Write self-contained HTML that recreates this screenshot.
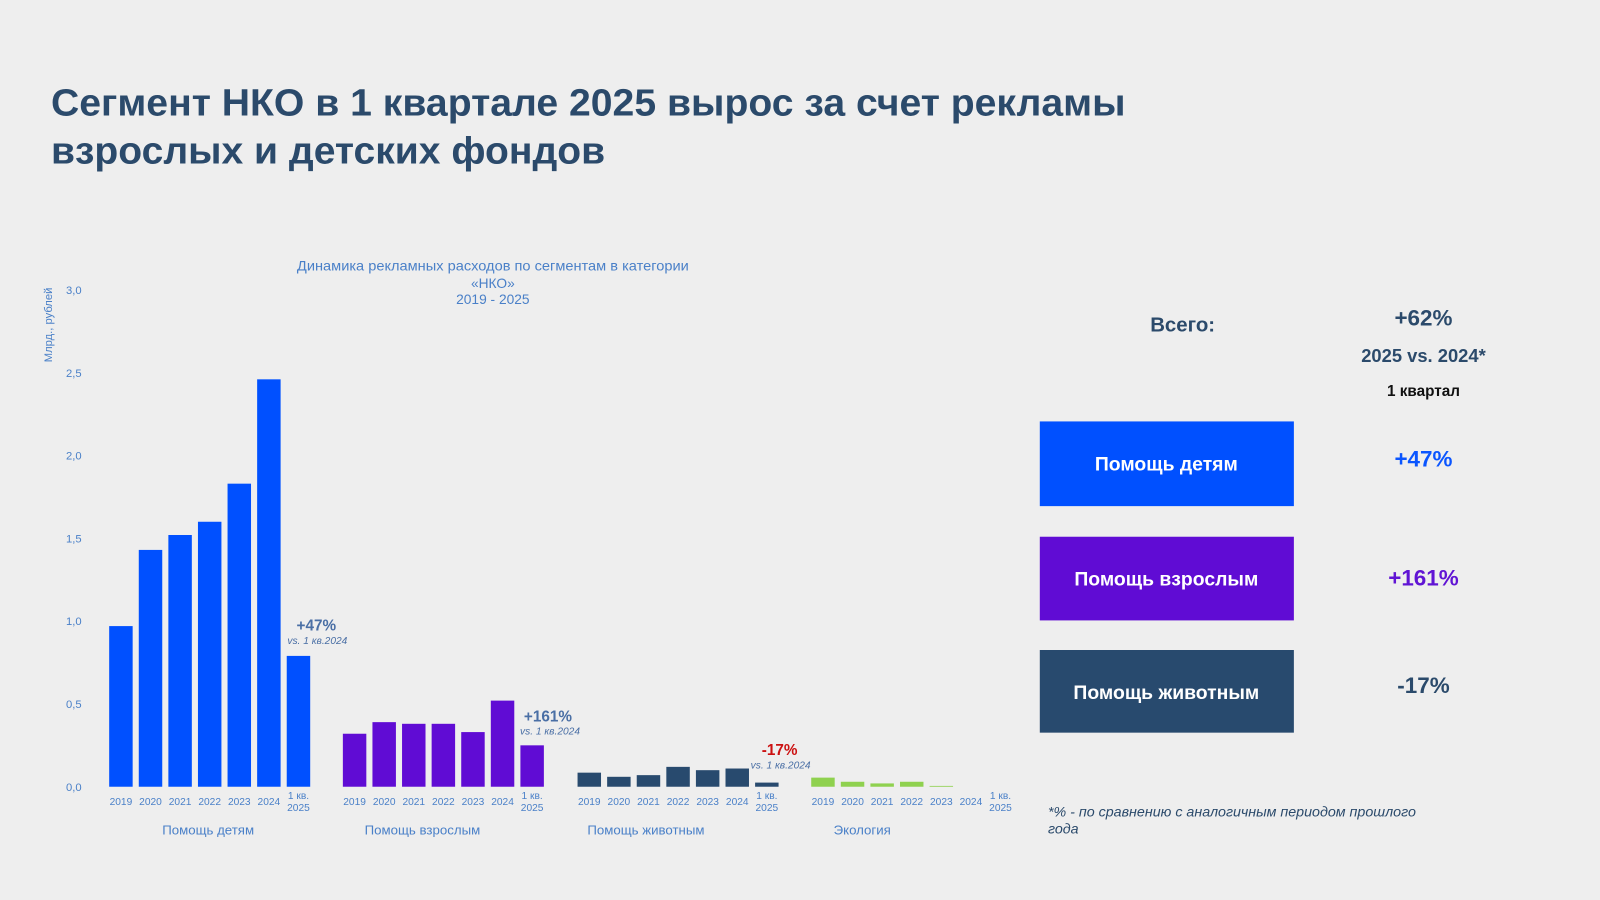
<!DOCTYPE html>
<html><head><meta charset="utf-8"><style>
html,body{margin:0;padding:0;background:#eeeeee;}
svg{display:block;font-family:"Liberation Sans","Noto Sans CJK SC",sans-serif;}
</style></head><body>
<svg id="chart" width="1600" height="900" viewBox="0 0 1568 882" xmlns="http://www.w3.org/2000/svg">
<rect width="1568" height="882" fill="#eeeeee"/>
<g fill="#2b4a6b" font-weight="bold" font-size="37">
<text x="50" y="113" textLength="1053" lengthAdjust="spacingAndGlyphs">Сегмент НКО в 1 квартале 2025 вырос за счет рекламы</text>
<text x="50" y="160" textLength="543" lengthAdjust="spacingAndGlyphs">взрослых и детских фондов</text>
</g>
<g fill="#4a80c8" font-size="13.5" text-anchor="middle">
<text x="483" y="265" textLength="384" lengthAdjust="spacingAndGlyphs">Динамика рекламных расходов по сегментам в категории</text>
<text x="483" y="282">«НКО»</text>
<text x="483" y="298">2019 - 2025</text>
</g>
<text transform="translate(51,355) rotate(-90)" fill="#4a80c8" font-size="11">Млрд., рублей</text>
<g id="yaxis"></g>
<g id="bars"></g>
<g id="xlabels"></g>
<g font-weight="bold" text-anchor="middle">
<text x="310" y="618" font-size="15" fill="#4a6fa5">+47%</text>
<text x="311" y="631" font-size="10" font-style="italic" font-weight="normal" fill="#4a6fa5">vs. 1 кв.2024</text>
<text x="537" y="707" font-size="15" fill="#4a6fa5">+161%</text>
<text x="539" y="720" font-size="10" font-style="italic" font-weight="normal" fill="#4a6fa5">vs. 1 кв.2024</text>
<text x="764" y="740" font-size="15" fill="#cc1111">-17%</text>
<text x="765" y="753" font-size="10" font-style="italic" font-weight="normal" fill="#4a6fa5">vs. 1 кв.2024</text>
</g>
<g font-weight="bold" text-anchor="middle">
<text x="1159" y="325" font-size="20" fill="#2b4a6b">Всего:</text>
<text x="1395" y="319" font-size="22" fill="#2b4a6b">+62%</text>
<text x="1395" y="355" font-size="18" fill="#2b4a6b">2025 vs. 2024*</text>
<text x="1395" y="388" font-size="15" fill="#111">1 квартал</text>
<rect x="1019" y="413" width="249" height="83" fill="#0050ff"/>
<text x="1143" y="461" font-size="19" fill="#fff">Помощь детям</text>
<rect x="1019" y="526" width="249" height="82" fill="#600cd4"/>
<text x="1143" y="574" font-size="19" fill="#fff">Помощь взрослым</text>
<rect x="1019" y="637" width="249" height="81" fill="#284a6e"/>
<text x="1143" y="685" font-size="19" fill="#fff">Помощь животным</text>
<text x="1395" y="457" font-size="22" fill="#0a55ff">+47%</text>
<text x="1395" y="574" font-size="22" fill="#6014d4">+161%</text>
<text x="1395" y="679" font-size="22" fill="#2b4a6b">-17%</text>
</g>
<g font-size="14" font-style="italic" fill="#2b4a6b">
<text x="1027" y="800">*% - по сравнению с аналогичным периодом прошлого</text>
<text x="1027" y="817">года</text>
</g>
</svg>
<script>
const categories = ["2019","2020","2021","2022","2023","2024","1 кв. 2025"];
const groups = ["Помощь детям","Помощь взрослым","Помощь животным","Экология"];
const kids = [0.97,1.43,1.52,1.60,1.83,2.46,0.79];
const adults = [0.32,0.39,0.38,0.38,0.33,0.52,0.25];
const animals = [0.085,0.06,0.07,0.12,0.10,0.11,0.025];
const ecology = [0.055,0.03,0.02,0.03,0.005,0,0];
const yTicks = ["0,0","0,5","1,0","1,5","2,0","2,5","3,0"];
const NS="http://www.w3.org/2000/svg";
const series=[kids,adults,animals,ecology];
const colors=["#0050ff","#600cd4","#284a6e","#8fd14f"];
const groupX=[107,336,566,795];
const labelOffset=[97,78,67,50];
const step=29,bw=23,base=771,pxPer=162.3;
function y(v){return base-v*pxPer;}
function mk(tag,attrs,parent,txt){const e=document.createElementNS(NS,tag);for(const k in attrs)e.setAttribute(k,attrs[k]);if(txt!==undefined)e.textContent=txt;parent.appendChild(e);return e;}
const ya=document.getElementById('yaxis');
yTicks.forEach((t,i)=>{const e=mk('text',{x:80,y:y(i*0.5)+4,'text-anchor':'end','font-size':11,fill:'#4a80c8'},ya,t);

});
const bars=document.getElementById('bars'),xl=document.getElementById('xlabels');
series.forEach((s,g)=>{
 s.forEach((v,i)=>{
  const x=groupX[g]+i*step;
  const r=mk('rect',{x:x,y:y(v),width:bw,height:Math.max(0,v*pxPer),fill:colors[g]},bars);
  
  
  const cx=x+bw/2;
  if(i<6){const t=mk('text',{x:cx,y:789,'text-anchor':'middle','font-size':10,fill:'#4a80c8'},xl,categories[i]);
   
   }
  else{const p=categories[i].split(' ');
   const t1=mk('text',{x:cx,y:783,'text-anchor':'middle','font-size':10,fill:'#4a80c8'},xl,p[0]+' '+p[1]);
   
   
   const t2=mk('text',{x:cx,y:795,'text-anchor':'middle','font-size':10,fill:'#4a80c8'},xl,p[2]);
   
   }
 });
 const gl=mk('text',{x:groupX[g]+labelOffset[g],y:818,'text-anchor':'middle','font-size':13,fill:'#4a80c8'},xl,groups[g]);
 
 
});
</script>
</body></html>
